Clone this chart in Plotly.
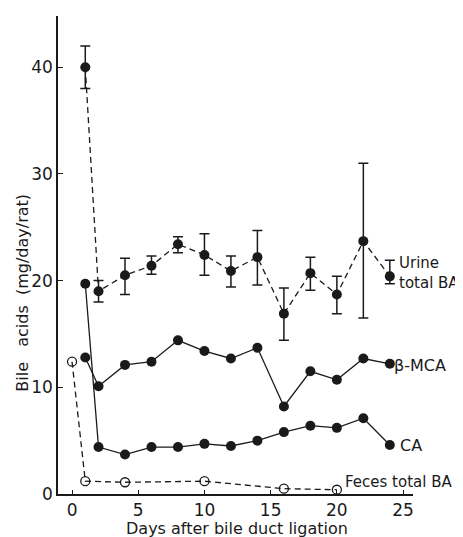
import plotly.graph_objects as go

days = [1, 2, 4, 6, 8, 10, 12, 14, 16, 18, 20, 22, 24]
urine_total = [40.0, 19.0, 20.5, 21.4, 23.4, 22.4, 20.9, 22.2, 16.9, 20.7, 18.7, 23.7, 20.4]
urine_err_plus = [2.0, 1.0, 1.6, 0.9, 0.7, 2.0, 1.4, 2.5, 2.4, 1.5, 1.7, 7.3, 1.5]
urine_err_minus = [2.0, 1.0, 1.8, 0.8, 0.8, 1.9, 1.5, 2.6, 2.5, 1.6, 1.8, 7.2, 0.7]
beta_mca = [12.8, 10.1, 12.1, 12.4, 14.4, 13.4, 12.7, 13.7, 8.2, 11.5, 10.7, 12.7, 12.2]
ca = [19.7, 4.4, 3.7, 4.4, 4.4, 4.7, 4.5, 5.0, 5.8, 6.4, 6.2, 7.1, 4.6]
feces_days = [0, 1, 4, 10, 16, 20]
feces_total = [12.4, 1.2, 1.1, 1.2, 0.5, 0.4]

x_ticks = [0, 5, 10, 15, 20, 25]
y_ticks = [0, 10, 20, 30, 40]

FONT = "DejaVu Sans"
INK = "#1a1a1a"

fig = go.Figure()

fig.add_trace(go.Scatter(
    x=feces_days, y=feces_total, mode="lines+markers",
    line=dict(color=INK, width=1.3, dash="6px,4px"),
    marker=dict(symbol="circle-open", size=9, color=INK, line=dict(width=1.3)),
    showlegend=False, cliponaxis=False))

fig.add_trace(go.Scatter(
    x=days, y=ca, mode="lines+markers",
    line=dict(color=INK, width=1.3),
    marker=dict(symbol="circle", size=10, color=INK),
    showlegend=False, cliponaxis=False))

fig.add_trace(go.Scatter(
    x=days, y=beta_mca, mode="lines+markers",
    line=dict(color=INK, width=1.3),
    marker=dict(symbol="circle", size=10, color=INK),
    showlegend=False, cliponaxis=False))

fig.add_trace(go.Scatter(
    x=days, y=urine_total, mode="lines+markers",
    line=dict(color=INK, width=1.3, dash="6px,4px"),
    marker=dict(symbol="circle", size=10, color=INK),
    error_y=dict(type="data", symmetric=False, array=urine_err_plus,
                 arrayminus=urine_err_minus, color=INK, thickness=1.5, width=5),
    showlegend=False, cliponaxis=False))

lab_font = dict(family=FONT, size=16, color=INK)
mid_font = dict(family=FONT, size=15, color=INK)
annotations = [
    dict(x=24.55, y=20.7, xref="x", yref="y", text="Urine<br>total BA", showarrow=False,
         xanchor="left", yanchor="middle", align="left", font=mid_font),
    dict(x=24.2, y=12.0, xref="x", yref="y", text="β-MCA", showarrow=False,
         xanchor="left", yanchor="middle", font=lab_font),
    dict(x=24.6, y=4.5, xref="x", yref="y", text="CA", showarrow=False,
         xanchor="left", yanchor="middle", font=lab_font),
    dict(x=20.45, y=1.1, xref="x", yref="y", text="Feces total BA", showarrow=False,
         xanchor="left", yanchor="middle", font=mid_font),
    dict(x=-0.10, y=0.42, xref="paper", yref="paper",
         text="Bile\u00a0\u00a0 acids\u00a0 (mg/day/rat)",
         showarrow=False, textangle=-90, xanchor="center", yanchor="middle",
         font=dict(family=FONT, size=16, color=INK)),
    dict(x=0.504, y=-0.072, xref="paper", yref="paper", text="Days after bile duct ligation",
         showarrow=False, xanchor="center", yanchor="middle",
         font=dict(family=FONT, size=16, color=INK)),
]

# The page body adds an 8px offset; figure is sized to fill the 463x537 window.
fig.update_layout(
    width=455, height=529,
    margin=dict(l=50, r=50, t=8, b=43),
    paper_bgcolor="white", plot_bgcolor="white",
    font=dict(family=FONT, size=17, color=INK),
    annotations=annotations,
    xaxis=dict(range=[-1.06, 25.75], tickvals=x_ticks, showgrid=False, zeroline=False,
               showline=True, linecolor=INK, linewidth=1.5, ticks="inside", ticklen=4,
               tickcolor=INK, tickwidth=1.3, tickfont=dict(size=17)),
    yaxis=dict(range=[0, 44.8], tickvals=y_ticks, showgrid=False, zeroline=False,
               showline=True, linecolor=INK, linewidth=1.5, ticks="inside", ticklen=5,
               tickcolor=INK, tickwidth=1.3, tickfont=dict(size=17)),
)

fig.write_html("out.html")
